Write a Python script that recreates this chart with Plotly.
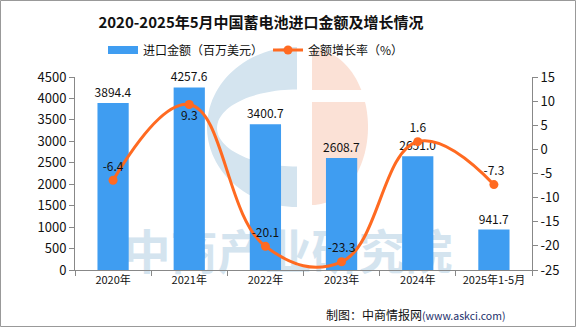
import numpy as np
import plotly.graph_objects as go

categories = ["2020年", "2021年", "2022年", "2023年", "2024年", "2025年1-5月"]
import_value = [3894.4, 4257.6, 3400.7, 2608.7, 2651.0, 941.7]
growth_rate = [-6.4, 9.3, -20.1, -23.3, 1.6, -7.3]
left_ticks = [0, 500, 1000, 1500, 2000, 2500, 3000, 3500, 4000, 4500]
right_ticks = [-25, -20, -15, -10, -5, 0, 5, 10, 15]

FONT = "Noto Sans CJK SC"
W, H = 576, 327
L, R, T, B = 75, 44, 77, 57
PW, PH = W - L - R, H - T - B
BAR_COLOR = "#3F9DF1"
LINE_COLOR = "#FF6A21"


def pp(px, py):
    return ((px - L) / PW, (H - B - py) / PH)


def poly(pts):
    s = []
    for i, (px, py) in enumerate(pts):
        x, y = pp(px, py)
        s.append(("M" if i == 0 else "L") + f"{x:.5f},{y:.5f}")
    return " ".join(s) + " Z"


def arc(cx, cy, rx, ry, a0, a1, n=60):
    th = np.radians(np.linspace(a0, a1, n))
    return list(zip(cx + rx * np.cos(th), cy - ry * np.sin(th)))


fig = go.Figure()

fig.add_trace(go.Bar(
    x=categories, y=import_value, name="进口金额（百万美元）", showlegend=False,
    marker=dict(color=BAR_COLOR, line=dict(width=0)),
    text=[f"{v:.1f}" for v in import_value], textposition="outside",
    constraintext="none",
    textfont=dict(family=FONT, size=12, color="#111"), cliponaxis=False,
    yaxis="y",
))
# legend swatch for the bars (wide rectangle like the original)
fig.add_trace(go.Scatter(
    x=[None], y=[None], mode="lines", name="进口金额（百万美元）",
    line=dict(color=BAR_COLOR, width=8), yaxis="y",
))

pos = ["bottom center" if v > 5 else "top center" for v in growth_rate]
fig.add_trace(go.Scatter(
    x=categories, y=growth_rate, name="金额增长率（%）", mode="lines+markers+text",
    line=dict(color=LINE_COLOR, width=3, shape="spline", smoothing=1.2),
    marker=dict(color=LINE_COLOR, size=9),
    text=[f"{v:.1f}" for v in growth_rate], textposition=pos,
    textfont=dict(family=FONT, size=12, color="#111"), cliponaxis=False,
    yaxis="y2",
))

shapes = []
blue = "#D4E4EF"
salmon = "#FBE1D6"
crescent = arc(297, 127, 90, 80, 90, 270) + arc(297, 128, 80, 38.5, 270, 90)
shapes.append(dict(type="path", path=poly(crescent), xref="paper", yref="paper",
                   fillcolor=blue, line=dict(width=0), layer="below"))
half = arc(312, 127, 56, 78, -90, 90)
shapes.append(dict(type="path", path=poly(half), xref="paper", yref="paper",
                   fillcolor=salmon, line=dict(width=0), layer="below"))
x0, y0 = pp(311, 102)
x1, y1 = pp(372, 90)
shapes.append(dict(type="rect", x0=x0, y0=y0, x1=x1, y1=y1, xref="paper", yref="paper",
                   fillcolor="white", line=dict(width=0), layer="below"))
x0, y0 = pp(118, 280)
x1, y1 = pp(458, 232)
shapes.append(dict(type="rect", x0=x0, y0=y0, x1=x1, y1=y1, xref="paper", yref="paper",
                   fillcolor="rgba(0,0,0,0)", line=dict(width=0), layer="below",
                   label=dict(text="中商产业研究院", textposition="middle center",
                              font=dict(family=FONT, size=47, color=blue, weight="bold"))))
x0, y0 = pp(0.5, 326.5)
x1, y1 = pp(575.5, 0.5)
shapes.append(dict(type="rect", x0=x0, y0=y0, x1=x1, y1=y1, xref="paper", yref="paper",
                   fillcolor="rgba(0,0,0,0)", line=dict(width=1, color="#999"), layer="above"))

tx, _ = pp(261, 0)
sx, sy = pp(507, 314)
lx, ly = pp(256, 50)

fig.update_layout(
    width=W, height=H,
    margin=dict(l=L, r=R, t=T, b=B),
    paper_bgcolor="white", plot_bgcolor="rgba(0,0,0,0)",
    font=dict(family=FONT, size=12, color="#111"),
    title=dict(text="<b>2020-2025年5月中国蓄电池进口金额及增长情况</b>",
               x=tx, xref="paper", xanchor="center", y=1 - 23 / H, yref="container",
               yanchor="middle", font=dict(family=FONT, size=15, color="#111")),
    legend=dict(orientation="h", x=lx, xanchor="center", y=ly, yanchor="middle",
                font=dict(family=FONT, size=12, color="#111"), bgcolor="rgba(0,0,0,0)",
                itemwidth=30, tracegroupgap=0),
    bargap=0.59,
    showlegend=True,
    xaxis=dict(type="category", showline=True, linecolor="#888", linewidth=1,
               ticks="outside", tickson="boundaries", ticklen=5, tickcolor="#888",
               showgrid=False, tickfont=dict(family=FONT, size=11, color="#111")),
    yaxis=dict(range=[0, 4500], tickvals=left_ticks, showline=True, linecolor="#888",
               ticks="outside", ticklen=5, tickcolor="#888", showgrid=False, zeroline=False,
               tickfont=dict(family=FONT, size=13, color="#111")),
    yaxis2=dict(range=[-25, 15], overlaying="y", side="right", tickvals=right_ticks,
                ticktext=[str(v) for v in right_ticks], showline=True, linecolor="#888",
                ticks="outside", ticklen=5, tickcolor="#888", showgrid=False, zeroline=False,
                tickfont=dict(family=FONT, size=13, color="#111")),
    shapes=shapes,
    annotations=[dict(
        text="制图：中商情报网<span style='color:#1C2F6B;font-size:10.5px'>(www.askci.com)</span>",
        x=sx, y=sy, xref="paper", yref="paper", xanchor="right", yanchor="middle",
        showarrow=False, font=dict(family=FONT, size=12, color="#111"))],
)

fig.write_html("out.html")
